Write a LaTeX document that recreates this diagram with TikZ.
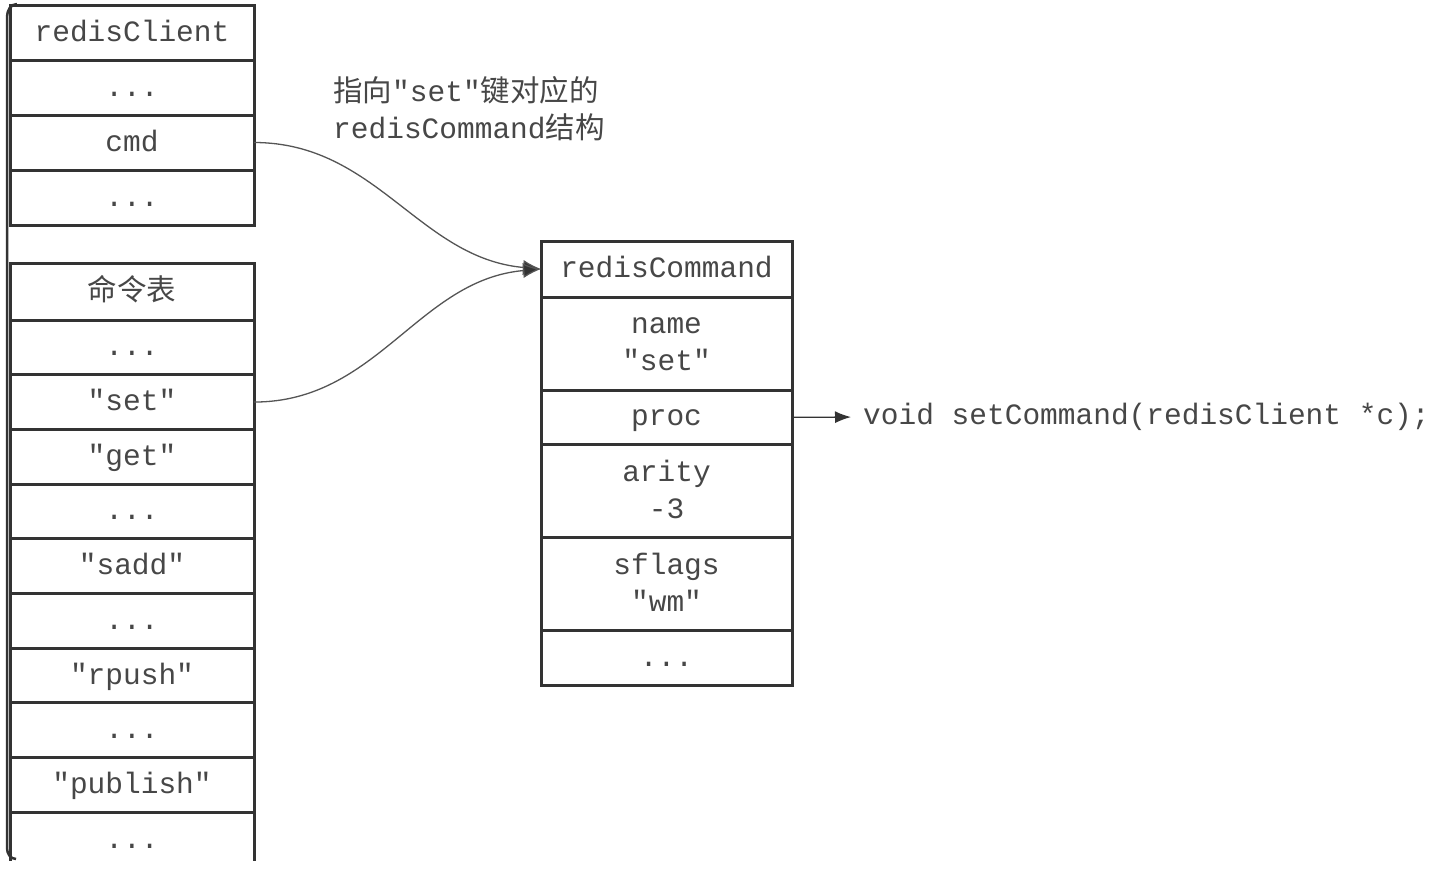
\documentclass[tikz,border=0pt]{standalone}
\usepackage{fontspec}
\setmonofont{Liberation Mono}
\newfontfamily\cjk{Noto Sans CJK SC}
\usepackage{xcolor}
\usetikzlibrary{arrows.meta,positioning}
\definecolor{ink}{HTML}{474747}
\definecolor{edge}{HTML}{333333}
\definecolor{wire}{HTML}{555555}
\newcommand\codefont{\fontsize{29.5pt}{37pt}\selectfont\ttfamily}
\tikzset{
  cell/.style={draw=edge, line width=3pt, minimum width=244pt, minimum height=54.7pt, inner sep=0pt, outer sep=0pt, text=ink, font=\codefont, align=center, text height=17pt, text depth=0pt},
  wide/.style={cell, minimum width=251pt},
  tall/.style={wide, minimum height=93pt, text height=54pt},
  link/.style={draw=wire, line width=1.3pt, -{Latex[length=18pt,width=15pt,fill=edge]}},
  plink/.style={draw=edge, line width=1.3pt, -{Latex[length=16pt,width=12pt,fill=edge]}},
  note/.style={text=ink, font=\codefont, align=left, inner sep=0pt},
}

\begin{document}
\begin{tikzpicture}[x=1pt, y=-1pt]
\fill[white] (0,0) rectangle (1442,876);
\useasboundingbox (0,0) rectangle (1442,876);
\begin{scope}
\clip (0,0) rectangle (1442,860);
% redisClient
\node[cell, anchor=north, minimum height=55pt] (cli) at (132,5) {redisClient};
\node[cell, minimum height=55pt, below=0pt of cli] (cli2) {...};
\node[cell, minimum height=55pt, below=0pt of cli2] (cmd) {cmd};
\node[cell, minimum height=55pt, below=0pt of cmd] (cli4) {...};
% command table
\node[cell, anchor=north, minimum height=57pt] (tab) at (132,263) {{\cjk 命令表}};
\node[cell, below=0pt of tab] (tab2) {...};
\node[cell, below=0pt of tab2] (set) {"set"};
\node[cell, below=0pt of set] (get) {"get"};
\node[cell, below=0pt of get] (tab5) {...};
\node[cell, below=0pt of tab5] (sadd) {"sadd"};
\node[cell, below=0pt of sadd] (tab7) {...};
\node[cell, below=0pt of tab7] (rpush) {"rpush"};
\node[cell, below=0pt of rpush] (tab9) {...};
\node[cell, below=0pt of tab9] (publish) {"publish"};
\node[cell, below=0pt of publish] (tab11) {...};
% frame edge
\draw[edge, line width=2.5pt] (17,4) to[out=180,in=90] (7,17) -- (7,848) to[out=-90,in=180] (16,859);
\end{scope}
% redisCommand
\node[wide, anchor=north, minimum height=56pt] (rc) at (666.5,241) {redisCommand};
\node[tall, below=0pt of rc] (name) {name\\"set"};
\node[wide, below=0pt of name] (proc) {proc};
\node[tall, below=0pt of proc] (arity) {arity\\-3};
\node[tall, below=0pt of arity] (sflags) {sflags\\"wm"};
\node[wide, below=0pt of sflags] (rc6) {...};
% labels
\node[note, anchor=west] (hint) at (333,109) {{\cjk 指向}"set"{\cjk 键对应的}\\redisCommand{\cjk 结构}};
\node[note, anchor=west] (fn) at (863,417) {void setCommand(redisClient *c);};
% pointers
\draw[link] (cmd.east) to[out=0, in=175] (rc.west);
\draw[link] (set.east) to[out=0, in=185] (rc.west);
\draw[plink, shorten >=12pt] (proc.east) -- (fn.west);
\end{tikzpicture}
\end{document}
